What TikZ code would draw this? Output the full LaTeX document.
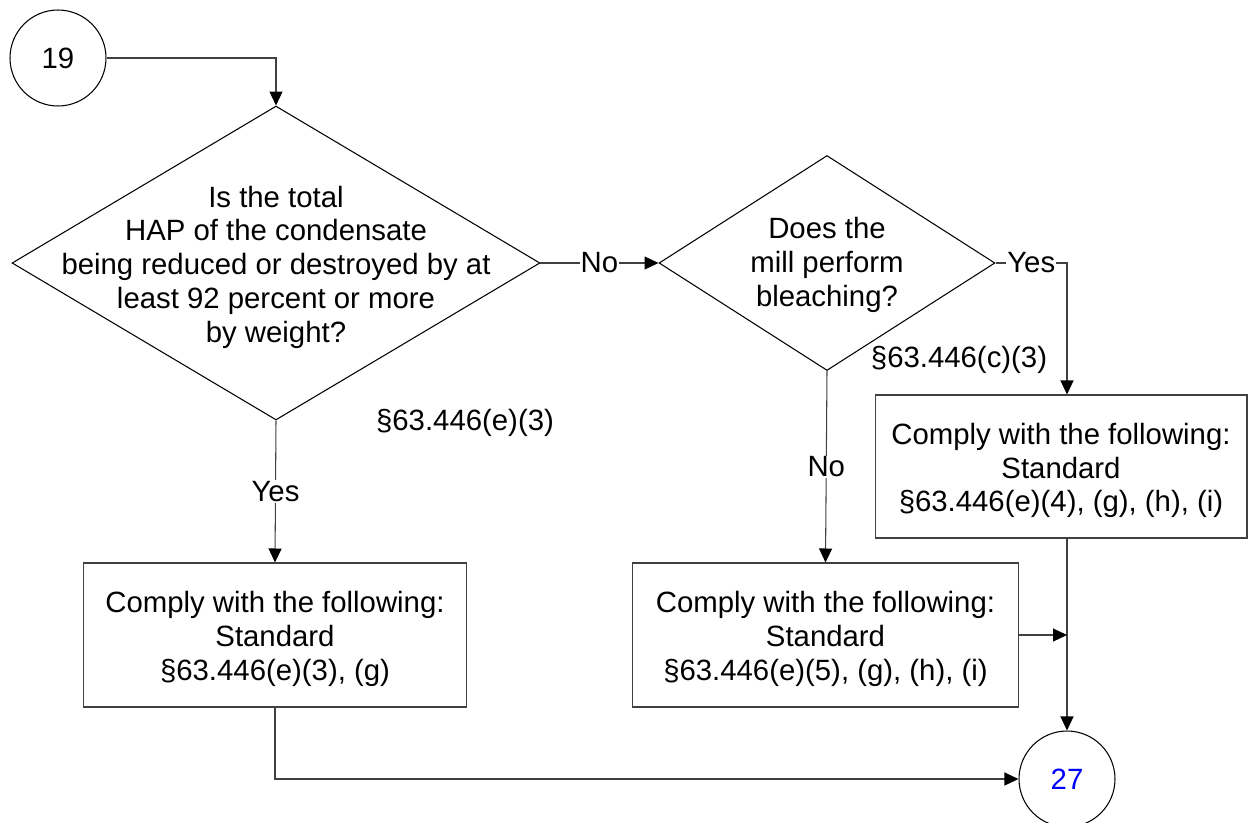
\documentclass[tikz,border=0pt]{standalone}
\usepackage{fontspec}
\setmainfont{Liberation Sans}
\usetikzlibrary{shapes.geometric,arrows.meta,calc,positioning}
\tikzstyle{decision} = [draw, diamond, inner sep=0pt, line width=0.6pt]
\tikzstyle{block} = [draw=black!75, rectangle, line width=0.6pt,
    minimum height=2.88cm]
\tikzstyle{jump} = [draw, circle, minimum size=1.92cm, inner sep=0pt, line width=0.6pt]
\tikzstyle{line} = [draw=black!75, line width=0.6pt]
\tikzstyle{cond} = [fill=white, inner sep=0.5pt]
\tikzstyle{words} = [align=center, yshift=-0.08cm]

\begin{document}
\begin{tikzpicture}[x=0.02cm, y=-0.02cm, >={Triangle[length=2.8mm,width=2.6mm,color=black]},
    font=\fontsize{16.7}{19.2}\selectfont]
    \useasboundingbox (0,0) rectangle (1248,822);
    \clip (0,0) rectangle (1248,822);

    % We start by placing the blocks
    \node [jump] (c19) at (58,58) {19};
    \node [decision, minimum width=10.56cm, minimum height=6.28cm] (q1) at (276,263) {};
    \node [words] (q1text) at (q1) {Is the total\\HAP of the condensate\\being reduced or destroyed by at\\least 92 percent or more\\by weight?};
    \node [decision, minimum width=6.72cm, minimum height=4.3cm] (q2) at (827,263) {};
    \node [words, yshift=0.04cm] (q2text) at (q2) {Does the\\mill perform\\bleaching?};
    \node [block, minimum width=7.68cm] (b1) at (275,635) {};
    \node [words] (b1text) at (b1) {Comply with the following:\\Standard\\§63.446(e)(3), (g)};
    \node [block, minimum width=7.74cm] (b2) at (825.5,635) {};
    \node [words] (b2text) at (b2) {Comply with the following:\\Standard\\§63.446(e)(5), (g), (h), (i)};
    \node [block, minimum width=7.44cm, minimum height=2.86cm] (b3) at (1061,466.5) {};
    \node [words] (b3text) at (b3) {Comply with the following:\\Standard\\§63.446(e)(4), (g), (h), (i)};
    \node [jump, text=blue] (c27) at (1067,779) {27};
    \node (ref1) at (465,423) {§63.446(e)(3)};
    \node (ref2) at (959,360) {§63.446(c)(3)};

    % Once the nodes are placed, connecting them is easy.
    \draw [line,->] (c19.east) -| (q1.north);
    \draw [line,->] (q1.east) -- node[cond] {No} (q2.west);
    \draw [line,->] (q2.east) -- node[cond] {Yes} (q2.east -| c27) -- (b3.north -| c27);
    \draw [line,->] (q1.south) -- node[cond] {Yes} (b1.north);
    \draw [line,->] (q2.south) -- node[cond] {No} (b2.north);
    \draw [line,->] (b3.south -| c27) -- (c27.north);
    \draw [line,->] (b2.east) -- (b2.east -| c27);
    \draw [line,->] (b1.south) |- (c27.west);
\end{tikzpicture}
\end{document}
